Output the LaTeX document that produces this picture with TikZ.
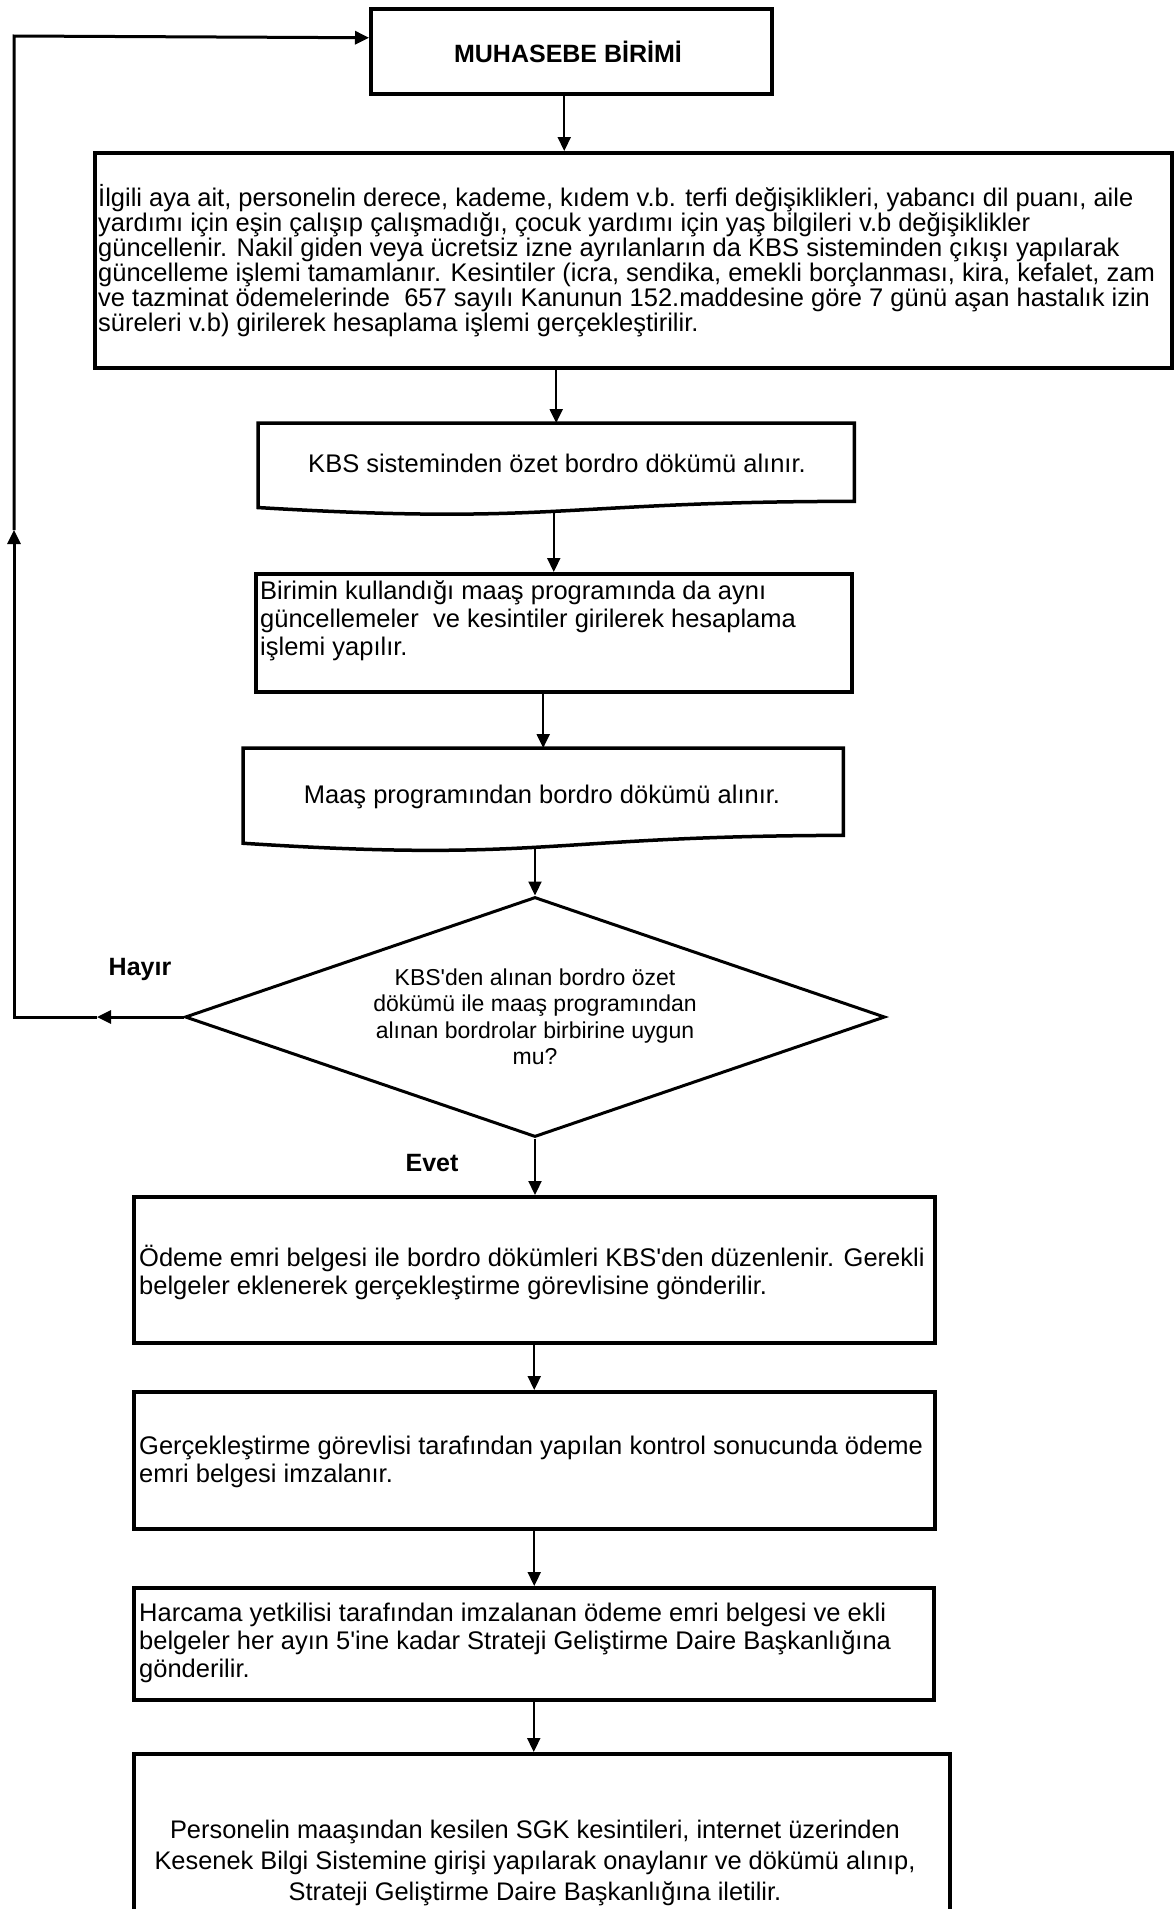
\documentclass[tikz,border=0pt]{standalone}
\usepackage{fontspec}
\setmainfont{Liberation Sans}
\usetikzlibrary{arrows.meta,calc,shapes.geometric}
\newcommand\fbig{\fontsize{25.5}{25}\selectfont}
\newcommand\fnorm{\fontsize{25.5}{28}\selectfont}
\newcommand\fdia{\fontsize{23}{26.5}\selectfont}
\newcommand\flast{\fontsize{25.4}{31}\selectfont}
\newcommand\flab{\fontsize{25}{28}\selectfont\bfseries}
\newcommand\sq{\textquotesingle}
\begin{document}
\begin{tikzpicture}[x=1pt,y=-1pt,
  boxline/.style={draw=black,line width=3.5pt,line join=miter},
  frame/.style={boxline,rectangle,inner sep=0pt,anchor=north west},
  area/.style={rectangle,inner sep=0pt,anchor=north west},
  txt/.style={inner sep=0pt,align=left,anchor=west,font=\fnorm},
  arr/.style={line width=2.2pt,-{Triangle[length=14pt,width=13pt]}},
  loop/.style={line width=3pt,line join=miter},
  lab/.style={inner sep=0pt,font=\flab}]
\useasboundingbox (0,0) rectangle (1175,1909);
\fill[white] (0,0) rectangle (1175,1909);
\clip (0,0) rectangle (1175,1909);

% boxes
\node[frame,minimum width=401pt,minimum height=85pt] (muh) at (369,7) {};
\node[inner sep=0pt,font=\flab] (muht) at (568,52) {MUHASEBE BİRİMİ};

\node[frame,minimum width=1077pt,minimum height=215pt] (big) at (93,151) {};
\node[txt,font=\fbig] (bigt) at (98,261) {İlgili aya ait, personelin derece, kademe, kıdem v.b. terfi değişiklikleri, yabancı dil puanı, aile\\
yardımı için eşin çalışıp çalışmadığı, çocuk yardımı için yaş bilgileri v.b değişiklikler\\
güncellenir. Nakil giden veya ücretsiz izne ayrılanların da KBS sisteminden çıkışı yapılarak\\
güncelleme işlemi tamamlanır. Kesintiler (icra, sendika, emekli borçlanması, kira, kefalet, zam\\
ve tazminat ödemelerinde~ 657 sayılı Kanunun 152.maddesine göre 7 günü aşan hastalık izin\\
süreleri v.b) girilerek hesaplama işlemi gerçekleştirilir.};

\node[area,minimum width=596pt,minimum height=91pt] (kbs) at (258,423) {};
\draw[boxline] (kbs.north west) -- (kbs.north east) -- ($(kbs.north east)!0.857!(kbs.south east)$)
  .. controls ($(kbs.north)!0.86!(kbs.south)$) and ($(kbs.north)!1.12!(kbs.south)$) .. ($(kbs.north west)!0.925!(kbs.south west)$) -- cycle;
\node[txt,anchor=center] (kbst) at (557,463) {KBS sisteminden özet bordro dökümü alınır.};

\node[frame,minimum width=596pt,minimum height=118pt] (bir) at (254,572) {};
\node[txt] (birt) at (260,621) {Birimin kullandığı maaş programında da aynı\\
güncellemeler~ ve kesintiler girilerek hesaplama\\
işlemi yapılır.};

\node[area,minimum width=600pt,minimum height=102pt] (maas) at (243,748) {};
\draw[boxline] (maas.north west) -- (maas.north east) -- ($(maas.north east)!0.853!(maas.south east)$)
  .. controls ($(maas.north)!0.86!(maas.south)$) and ($(maas.north)!1.12!(maas.south)$) .. ($(maas.north west)!0.93!(maas.south west)$) -- cycle;
\node[txt,anchor=center] (maast) at (542,797) {Maaş programından bordro dökümü alınır.};

\node[diamond,draw=black,line width=3pt,aspect=2.92,minimum width=700pt,minimum height=240pt,inner sep=0pt,align=center,font=\fdia] (dia) at (535,1017)
 {KBS\sq den alınan bordro özet\\dökümü ile maaş programından\\alınan bordrolar birbirine uygun\\mu?};

\node[lab] (hayir) at (140,969) {Hayır};
\node[lab] (evet) at (432,1163) {Evet};

\node[frame,minimum width=801pt,minimum height=146pt] (ode) at (132,1195) {};
\node[txt] (odet) at (139,1273) {Ödeme emri belgesi ile bordro dökümleri KBS\sq den düzenlenir. Gerekli\\
belgeler eklenerek gerçekleştirme görevlisine gönderilir.};

\node[frame,minimum width=801pt,minimum height=137pt] (ger) at (132,1390) {};
\node[txt] (gert) at (139,1462) {Gerçekleştirme görevlisi tarafından yapılan kontrol sonucunda ödeme\\
emri belgesi imzalanır.};

\node[frame,minimum width=800pt,minimum height=112pt] (har) at (132,1586) {};
\node[txt] (hart) at (139,1643) {Harcama yetkilisi tarafından imzalanan ödeme emri belgesi ve ekli\\
belgeler her ayın 5\sq ine kadar Strateji Geliştirme Daire Başkanlığına\\
gönderilir.};

\node[frame,minimum width=816pt,minimum height=220pt] (per) at (132,1752) {};
\node[txt,anchor=center,align=center,font=\flast] (pert) at (535,1863) {Personelin maaşından kesilen SGK kesintileri, internet üzerinden\\
Kesenek Bilgi Sistemine girişi yapılarak onaylanır ve dökümü alınıp,\\
Strateji Geliştirme Daire Başkanlığına iletilir.};

% connectors
\draw[arr] ([xshift=-7pt]muh.south) -- ([xshift=-7pt]muh.south |- big.north);
\draw[arr] (kbs.north |- big.south) -- (kbs.north);
\draw[arr] ([yshift=4pt]bir.north |- kbs.south) -- (bir.north);
\draw[arr] (maas.north |- bir.south) -- (maas.north);
\draw[arr] ([yshift=4pt]dia.north |- maas.south) -- (dia.north);
\draw[arr] (dia.south) -- (dia.south |- ode.north);
\draw[arr] (ode.south) -- (ode.south |- ger.north);
\draw[arr] (ger.south) -- (ger.south |- har.north);
\draw[arr] (har.south) -- (har.south |- per.north);

% loop back
\coordinate (hA) at (97,1017);
\coordinate (c1) at (14,1017);
\coordinate (vA) at (14,530);
\coordinate (c2) at (14,36);
\coordinate (mt) at ([yshift=13.5pt]muh.west);
\draw[loop,-{Triangle[length=14pt,width=13pt]}] (dia.west) -- (hA);
\draw[loop,-{Triangle[length=14pt,width=13pt]}] (hA) -- (c1) -- (vA);
\draw[loop,-{Triangle[length=14pt,width=13pt]}] (vA) -- (c2) -- (mt);
\end{tikzpicture}
\end{document}
